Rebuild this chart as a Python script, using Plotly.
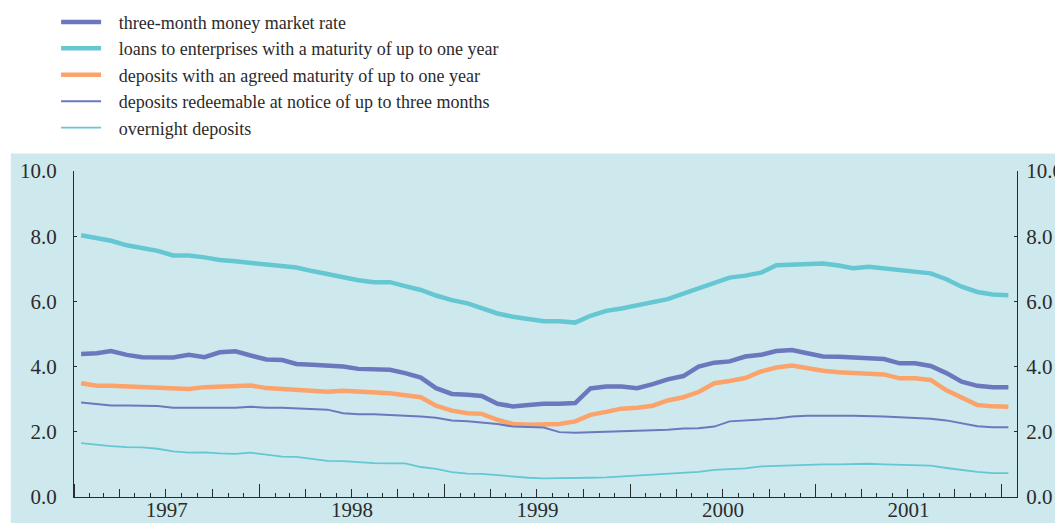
import pandas as pd
import plotly.graph_objects as go

# monthly observations, Jan 1997 .. Jan 2002 (plotted mid-month)
months = pd.date_range("1997-01-01", periods=61, freq="MS") + pd.Timedelta(days=14)

money_market_3m = [
    4.39, 4.41, 4.48, 4.36, 4.29, 4.27, 4.28, 4.36, 4.29, 4.44, 4.47, 4.34,
    4.22, 4.20, 4.08, 4.06, 4.03, 4.00, 3.93, 3.92, 3.90, 3.80, 3.66, 3.34,
    3.16, 3.14, 3.10, 2.86, 2.78, 2.82, 2.86, 2.86, 2.88, 3.33, 3.39, 3.39,
    3.34, 3.46, 3.61, 3.71, 4.00, 4.12, 4.16, 4.31, 4.36, 4.48, 4.51, 4.41,
    4.31, 4.30, 4.27, 4.24, 4.23, 4.10, 4.10, 4.02, 3.80, 3.54, 3.41, 3.37,
    3.37,
]
loans_enterprises = [
    8.03, 7.93, 7.86, 7.72, 7.65, 7.55, 7.41, 7.41, 7.35, 7.27, 7.23, 7.19,
    7.14, 7.10, 7.04, 6.93, 6.84, 6.73, 6.65, 6.59, 6.59, 6.47, 6.35, 6.18,
    6.04, 5.94, 5.79, 5.63, 5.53, 5.47, 5.39, 5.39, 5.35, 5.56, 5.71, 5.78,
    5.89, 5.99, 6.07, 6.24, 6.39, 6.55, 6.73, 6.79, 6.88, 7.11, 7.12, 7.14,
    7.16, 7.10, 7.02, 7.06, 7.01, 6.96, 6.89, 6.86, 6.68, 6.45, 6.29, 6.21,
    6.19,
]
deposits_agreed = [
    3.49, 3.41, 3.41, 3.39, 3.37, 3.32, 3.31, 3.31, 3.37, 3.39, 3.43, 3.42,
    3.34, 3.31, 3.27, 3.24, 3.23, 3.26, 3.24, 3.22, 3.18, 3.12, 3.06, 2.80,
    2.65, 2.57, 2.55, 2.37, 2.24, 2.22, 2.24, 2.24, 2.32, 2.52, 2.61, 2.71,
    2.74, 2.80, 2.96, 3.06, 3.22, 3.49, 3.56, 3.65, 3.85, 3.97, 4.03, 3.95,
    3.87, 3.83, 3.82, 3.78, 3.76, 3.64, 3.64, 3.59, 3.27, 3.03, 2.82, 2.78,
    2.77,
]
deposits_notice = [
    2.90, 2.85, 2.81, 2.81, 2.79, 2.79, 2.74, 2.74, 2.74, 2.72, 2.74, 2.77,
    2.74, 2.74, 2.72, 2.70, 2.68, 2.57, 2.54, 2.54, 2.52, 2.49, 2.47, 2.43,
    2.35, 2.32, 2.29, 2.24, 2.16, 2.14, 2.13, 1.99, 1.97, 1.99, 2.01, 2.03,
    2.03, 2.05, 2.06, 2.10, 2.11, 2.16, 2.32, 2.36, 2.38, 2.41, 2.47, 2.49,
    2.50, 2.49, 2.49, 2.49, 2.47, 2.45, 2.43, 2.40, 2.35, 2.27, 2.17, 2.14,
    2.14,
]
overnight = [
    1.65, 1.60, 1.56, 1.53, 1.52, 1.48, 1.40, 1.36, 1.37, 1.34, 1.32, 1.36,
    1.29, 1.24, 1.23, 1.18, 1.11, 1.10, 1.06, 1.04, 1.03, 1.03, 0.92, 0.86,
    0.76, 0.72, 0.71, 0.67, 0.61, 0.59, 0.57, 0.57, 0.58, 0.59, 0.60, 0.63,
    0.66, 0.68, 0.71, 0.74, 0.77, 0.83, 0.86, 0.88, 0.94, 0.96, 0.98, 1.00,
    1.00, 1.00, 1.02, 1.02, 1.00, 0.98, 0.96, 0.96, 0.89, 0.82, 0.77, 0.73,
    0.73,
]

y_ticks = [0, 2, 4, 6, 8, 10]

BLUE = "#6b78bd"
CYAN = "#65c7d1"
ORANGE = "#fba36b"
PANEL = "#cde9ee"
INK = "#2b2b2b"
FONT = "Liberation Serif"
PAD = "\u2002\u2009"  # small gap between legend sample and its text

fig = go.Figure()
series = [
    ("three-month money market rate", money_market_3m, BLUE, 4.5, "x", "y"),
    ("loans to enterprises with a maturity of up to one year", loans_enterprises, CYAN, 4.5, "x", "y"),
    ("deposits with an agreed maturity of up to one year", deposits_agreed, ORANGE, 4.5, "x", "y"),
    ("deposits redeemable at notice of up to three months", deposits_notice, BLUE, 2, "x3", "y"),
    ("overnight deposits", overnight, CYAN, 1.8, "x2", "y2"),
]
for name, vals, color, w, xa, ya in series:
    fig.add_trace(go.Scatter(
        x=months, y=vals, name=PAD + name, mode="lines",
        line=dict(color=color, width=w), xaxis=xa, yaxis=ya,
    ))

x_range = ["1997-01-01", "2002-02-01"]
common_x = dict(range=x_range, type="date", showgrid=False, zeroline=False,
                tickcolor=INK, tickwidth=1, ticks="inside")

# page body keeps its default 8px margin, so the figure is 8px smaller each way
fig.update_layout(
    width=1055, height=515,
    margin=dict(l=66, r=46, t=163, b=26, autoexpand=False),
    paper_bgcolor="white",
    plot_bgcolor="rgba(0,0,0,0)",
    font=dict(family=FONT, size=21, color=INK),
    showlegend=True,
    legend=dict(
        x=-0.019, y=1.513, xanchor="left", yanchor="top",
        bgcolor="rgba(0,0,0,0)", font=dict(size=18, color=INK),
        itemwidth=40, tracegroupgap=0,
    ),
    xaxis=dict(
        **common_x, dtick="M12", tick0="1997-01-01", ticklen=13,
        tickformat="%Y", ticklabelmode="period", ticklabelstandoff=-6,
        showline=True, linecolor=INK, linewidth=1.2,
        minor=dict(dtick="M1", tick0="1997-01-01", ticklen=4, ticks="inside",
                   tickcolor=INK, tickwidth=1),
    ),
    xaxis2=dict(**common_x, overlaying="x", dtick="M3", tick0="1997-01-01",
                ticklen=8, showticklabels=False, showline=False),
    xaxis3=dict(**common_x, overlaying="x", dtick="M12", tick0="1997-01-01",
                ticklen=13, showticklabels=False, showline=False),
    yaxis=dict(
        range=[0, 10], tickvals=y_ticks, tickformat=".1f",
        ticks="inside", ticklen=3, tickcolor=INK, showgrid=False, zeroline=False,
        showline=True, linecolor=INK, linewidth=1.2, ticklabelstandoff=12,
    ),
    yaxis2=dict(
        range=[0, 10], tickvals=y_ticks, tickformat=".1f", overlaying="y",
        side="right", anchor="x",
        ticks="inside", ticklen=3, tickcolor=INK, showgrid=False, zeroline=False,
        showline=True, linecolor=INK, linewidth=1.2, ticklabelstandoff=4,
    ),
    shapes=[dict(
        type="rect", xref="paper", yref="paper", layer="below",
        x0=-0.067, x1=1.06, y0=-0.1, y1=1.054,
        fillcolor=PANEL, line=dict(width=0),
    )],
)

fig.write_html("out.html")
